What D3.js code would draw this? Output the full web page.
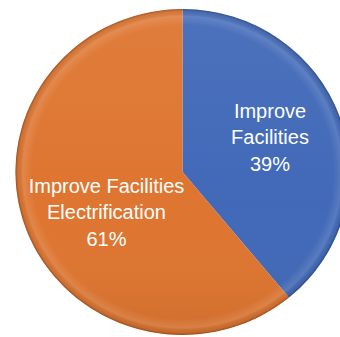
<!DOCTYPE html>
<html><head><meta charset="utf-8">
<script src="https://cdn.jsdelivr.net/npm/d3@7"></script>
<style>html,body{margin:0;padding:0;background:#fff;overflow:hidden}</style>
</head><body>
<svg id="c" width="340" height="337"></svg>
<script>
const categories = ["Improve Facilities", "Improve Facilities Electrification"];
const values = [39, 61];
const labelLines = [["Improve", "Facilities", "39%"], ["Improve Facilities", "Electrification", "61%"]];
const colors = ["#4169B8", "#DE7530"];

const svg = d3.select("#c");
const cx = 182.5, cy = 172, r = 163, sx = 1.025;
const defs = svg.append("defs");
const rg = defs.append("radialGradient").attr("id", "rim").attr("cx", "50%").attr("cy", "50%").attr("r", "50%");
rg.append("stop").attr("offset", "0.9").attr("stop-color", "#fff").attr("stop-opacity", 0);
rg.append("stop").attr("offset", "0.955").attr("stop-color", "#fff").attr("stop-opacity", 0.12);
rg.append("stop").attr("offset", "0.985").attr("stop-color", "#000").attr("stop-opacity", 0.05);
rg.append("stop").attr("offset", "1").attr("stop-color", "#000").attr("stop-opacity", 0.3);
const lg = defs.append("linearGradient").attr("id", "shade").attr("x1", 0).attr("y1", 0).attr("x2", 0).attr("y2", 1);
lg.append("stop").attr("offset", "0").attr("stop-color", "#fff").attr("stop-opacity", 0.06);
lg.append("stop").attr("offset", "0.6").attr("stop-color", "#fff").attr("stop-opacity", 0);
lg.append("stop").attr("offset", "1").attr("stop-color", "#000").attr("stop-opacity", 0.06);

const g = svg.append("g").attr("transform", `translate(${cx},${cy}) scale(${sx},1)`);
const pie = d3.pie().sort(null).value(d => d)(values);
const arc = d3.arc().innerRadius(0).outerRadius(r);
g.selectAll("path.s").data(pie).join("path").attr("class", "s")
  .attr("d", arc).attr("fill", (d, i) => colors[i]);
g.append("circle").attr("r", r).attr("fill", "url(#shade)");
g.append("circle").attr("r", r).attr("fill", "url(#rim)");

const labelPos = [[270, 118], [106.5, 193]];
labelLines.forEach((lines, i) => {
  const t = svg.append("text").attr("fill", "#fff")
    .attr("font-family", "Liberation Sans, Arial, sans-serif").attr("font-size", 20)
    .attr("text-anchor", "middle");
  lines.forEach((l, j) => {
    t.append("tspan").attr("x", labelPos[i][0]).attr("y", labelPos[i][1] + j * 26.3).text(l);
  });
});
</script>
</body></html>
